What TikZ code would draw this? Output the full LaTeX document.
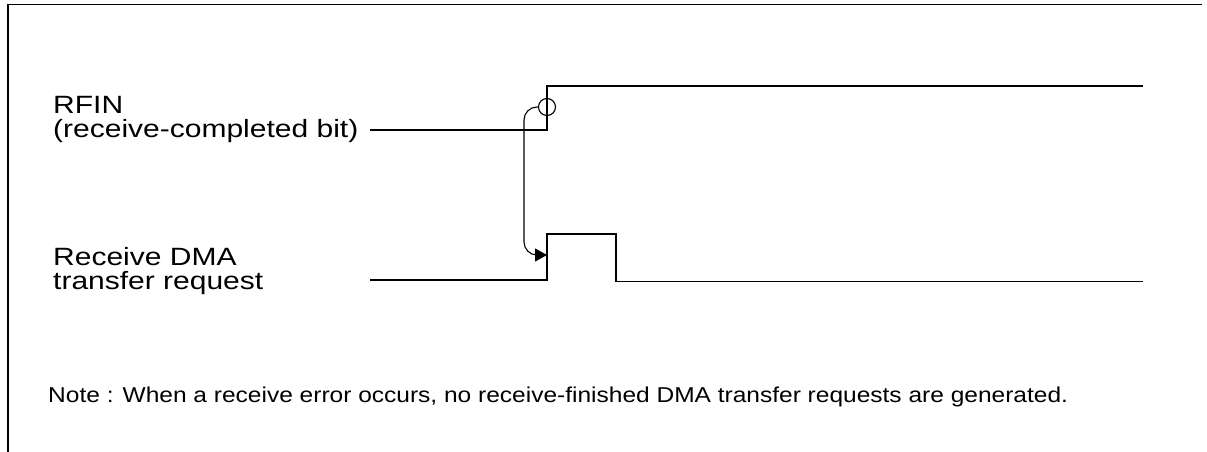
\documentclass[tikz,border=0pt]{standalone}
\usepackage{fontspec}
\setmainfont{Liberation Sans}
\newfontfamily\lblfont[FakeStretch=1.2]{Liberation Sans}
\newfontfamily\notefont[FakeStretch=1.14]{Liberation Sans}
\usetikzlibrary{arrows.meta}
\begin{document}
\begin{tikzpicture}[x=1pt,y=-1pt,
  frame/.style={line width=1.2pt},
  wave/.style={line width=1.1pt},
  cause/.style={line width=1.1pt,rounded corners=13pt,-{Triangle[length=12pt,width=13pt]}},
  lbl/.style={anchor=base west,inner sep=0pt,font=\lblfont\fontsize{25}{28}\selectfont},
  notestyle/.style={anchor=base west,inner sep=0pt,font=\notefont\fontsize{21.5}{25}\selectfont},
  ring/.style={circle,draw,line width=1.1pt,minimum size=17pt,inner sep=0pt}]
\useasboundingbox (0,0) rectangle (1207,452);
% frame
\coordinate (fl) at (8,452);
\coordinate (ftl) at (8,4.5);
\coordinate (ftr) at (1202,4.5);
\draw[frame] (fl) -- (ftl) -- (ftr);
% labels
\node[lbl] (rfin1) at (53,113) {RFIN};
\node[lbl] (rfin2) at (53,137) {(receive-completed bit)};
\node[lbl] (dma1) at (53,265) {Receive DMA};
\node[lbl] (dma2) at (53,289) {transfer request};
\node[notestyle] (note) at (48,402) {Note : When a receive error occurs, no receive-finished DMA transfer requests are generated.};
% RFIN waveform
\coordinate (r0) at (370,130);
\coordinate (r1) at (547,130);
\coordinate (r2) at (547,86);
\coordinate (r3) at (1143,86);
\draw[wave] (r0) -- (r1) -- (r2) -- (r3);
% DMA waveform
\coordinate (d0) at (370,280);
\coordinate (d1) at (547,280);
\coordinate (d2) at (547,234);
\coordinate (d3) at (616,234);
\coordinate (d4) at (616,281.5);
\coordinate (d5) at (1143,281.5);
\draw[wave] (d0) -- (d1) -- (d2) -- (d3) -- (d4) -- (d5);
% cause arrow
\node[ring] (edge) at (547,107) {};
\coordinate (tip) at (547,255);
\draw[cause] (edge.west) -| (524,255) -- (tip);
\end{tikzpicture}
\end{document}
